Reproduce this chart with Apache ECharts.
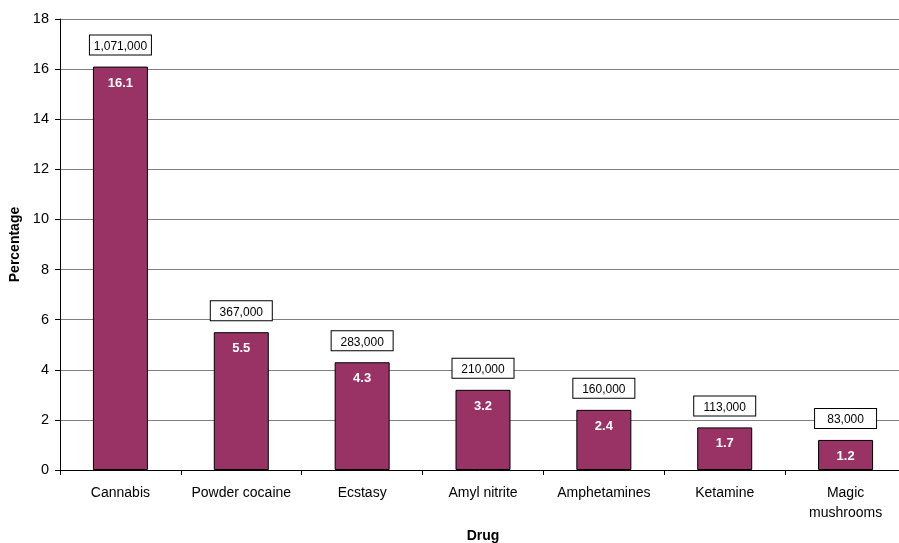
<!DOCTYPE html>
<html>
<head>
<meta charset="utf-8">
<script src="https://cdn.jsdelivr.net/npm/echarts@6/dist/echarts.min.js"></script>
<style>
  html, body { margin: 0; padding: 0; background: #fff; }
  #chart { width: 899px; height: 543px; }
</style>
</head>
<body>
<div id="chart"></div>
<script>
// Drug use: percentage and estimated number of users
const drugs = ['Cannabis', 'Powder cocaine', 'Ecstasy', 'Amyl nitrite', 'Amphetamines', 'Ketamine', 'Magic\nmushrooms'];
const percentages = [16.1, 5.5, 4.3, 3.2, 2.4, 1.7, 1.2];
const userCounts = ['1,071,000', '367,000', '283,000', '210,000', '160,000', '113,000', '83,000'];
const yTicks = { min: 0, max: 18, interval: 2 };

const font = '"Liberation Sans", Arial, sans-serif';
const chart = echarts.init(document.getElementById('chart'));

chart.setOption({
  animation: false,
  textStyle: { fontFamily: font },
  grid: { left: 60, top: 19, width: 846, bottom: 73, containLabel: false, outerBoundsMode: 'none' },
  xAxis: {
    type: 'category',
    data: drugs,
    name: 'Drug',
    nameLocation: 'middle',
    nameGap: 59,
    nameTextStyle: { fontWeight: 'bold', fontSize: 14, color: '#000', fontFamily: font },
    axisLine: { show: true, lineStyle: { color: '#000', width: 1 } },
    axisTick: { show: true, length: 5, lineStyle: { color: '#000' } },
    axisLabel: { color: '#000', fontSize: 14, margin: 13, lineHeight: 20, fontFamily: font, interval: 0 },
    splitLine: { show: false }
  },
  yAxis: {
    type: 'value',
    min: yTicks.min,
    max: yTicks.max,
    interval: yTicks.interval,
    name: 'Percentage',
    nameLocation: 'middle',
    nameGap: 35,
    nameRotate: 90,
    nameTextStyle: { fontWeight: 'bold', fontSize: 14, color: '#000', fontFamily: font },
    axisLine: { show: true, lineStyle: { color: '#000', width: 1 } },
    axisTick: { show: true, length: 5, lineStyle: { color: '#000' } },
    axisLabel: { color: '#000', fontSize: 14.5, margin: 11, fontFamily: font },
    splitLine: { show: true, lineStyle: { color: '#808080', width: 1 } }
  },
  series: [
    {
      type: 'bar',
      data: percentages,
      barWidth: 55,
      itemStyle: { color: '#993366', borderColor: '#000', borderWidth: 1 },
      label: {
        show: true,
        position: 'insideTop',
        distance: 10,
        color: '#fff',
        fontWeight: 'bold',
        fontSize: 13,
        fontFamily: font,
        formatter: p => p.value.toFixed(1)
      }
    },
    {
      // transparent twin bars carrying the user-count boxes above each bar
      type: 'bar',
      data: percentages,
      barWidth: 55,
      barGap: '-100%',
      silent: true,
      itemStyle: { color: 'rgba(0,0,0,0)' },
      label: {
        show: true,
        position: 'top',
        distance: 12,
        color: '#000',
        fontSize: 12,
        fontFamily: font,
        backgroundColor: '#fff',
        borderColor: '#000',
        borderWidth: 1,
        width: 55,
        height: 14,
        align: 'center',
        padding: [3, 3, 2, 3],
        formatter: p => userCounts[p.dataIndex]
      }
    }
  ]
});
</script>
</body>
</html>
